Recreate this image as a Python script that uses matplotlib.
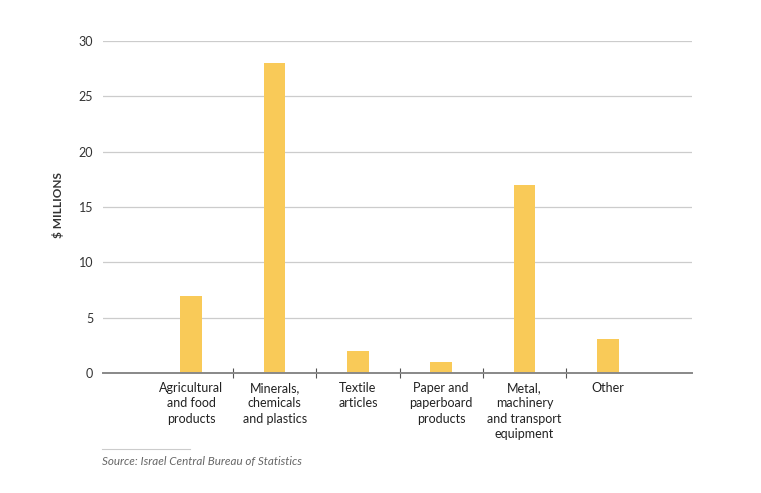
import matplotlib
matplotlib.use("Agg")
import matplotlib.pyplot as plt
import numpy as np

categories = ["Agricultural\nand food\nproducts", "Minerals,\nchemicals\nand plastics",
              "Textile\narticles", "Paper and\npaperboard\nproducts",
              "Metal,\nmachinery\nand transport\nequipment", "Other"]
values = [7, 28, 2, 1, 17, 3.1]
yticks = [0, 5, 10, 15, 20, 25, 30]

plt.rcParams['font.family'] = ['Lato', 'DejaVu Sans']

fig = plt.figure(figsize=(7.61, 4.93), dpi=100)
ax = fig.add_axes([103/761, 120/493, (692-103)/761, (373-41)/493])

x = np.arange(len(categories))
ax.bar(x, values, width=0.26, color="#F9CA58", zorder=3)

ax.set_xlim(-1.06, 6.01)
ax.set_ylim(0, 30)
ax.set_yticks(yticks)
ax.set_yticklabels([str(v) for v in yticks], fontsize=9, color="#333333")
ax.tick_params(axis='y', length=0, pad=7)
ax.grid(axis='y', color="#cccccc", linewidth=0.9, zorder=0)

ax.set_xticks(x[:-1] + 0.5)
ax.set_xticklabels([])
ax.tick_params(axis='x', direction='inout', length=7, width=0.8, color="#555555")
for xi, lab in zip(x, categories):
    ax.text(xi, -0.8, lab, ha='center', va='top', fontsize=9, color="#222222",
            linespacing=1.35, transform=ax.transData)

for s in ['top', 'right', 'left']:
    ax.spines[s].set_visible(False)
ax.spines['bottom'].set_color("#888888")
ax.spines['bottom'].set_linewidth(1.4)
ax.spines['bottom'].set_zorder(4)

fig.text(58/761, 1 - 205/493, "$ MILLIONS", rotation=90, ha='center', va='center',
         fontsize=8.5, fontweight='bold', color="#333333")

fig.add_artist(plt.Line2D([102/761, 190/761], [1 - 449/493, 1 - 449/493],
                          color="#cccccc", linewidth=0.8))
fig.text(102/761, 1 - 461/493, "Source: Israel Central Bureau of Statistics",
         ha='left', va='center', fontsize=8.4, style='italic', color="#666666")

fig.savefig("out.png", dpi=100)
